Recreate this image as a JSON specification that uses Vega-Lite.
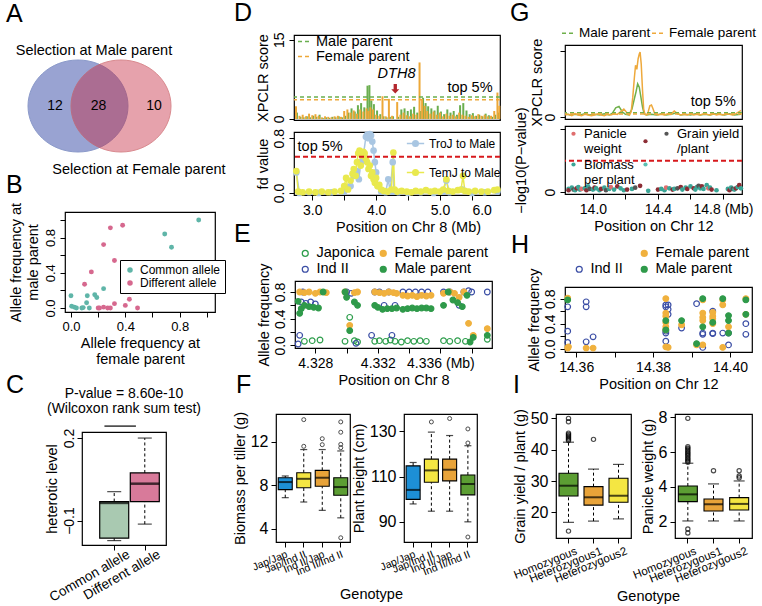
{
"$schema": "https://vega.github.io/schema/vega-lite/v6.json",
"background": "white",
"padding": 0,
"bounds": "flush",
"spacing": 0,
"resolve": {"scale": {"color": "independent", "fill": "independent", "stroke": "independent"}},
"config": {
  "font": "Liberation Sans",
  "view": {"stroke": "black", "strokeWidth": 1.2},
  "concat": {"spacing": 0},
  "axis": {"domain": false, "grid": false, "ticks": true, "tickColor": "black", "tickSize": 5, "tickWidth": 1, "labelColor": "black", "labelFont": "Liberation Sans", "labelFontSize": 14, "labelPadding": 3, "labelFlush": false, "labelOverlap": false, "titleColor": "black", "titleFont": "Liberation Sans", "titleFontSize": 14.5, "titleFontWeight": "normal", "titlePadding": 3},
  "axisY": {"labelAngle": -90, "labelAlign": "center", "labelBaseline": "bottom"},
  "legend": {"labelFont": "Liberation Sans", "labelColor": "black", "labelFontSize": 14.5, "padding": 0},
  "title": {"font": "Liberation Sans", "fontSize": 25, "fontWeight": "normal", "anchor": "start", "frame": "group", "baseline": "alphabetic", "color": "black"},
  "text": {"font": "Liberation Sans", "color": "black"}
},
"datasets": {
  "venn": [
    {"k": "set", "n": "Male", "x": 7.5, "y": 7.4},
    {"k": "set", "n": "Female", "x": 11.8, "y": 7.4},
    {"k": "num", "t": "12", "x": 5.2, "y": 7.4},
    {"k": "num", "t": "28", "x": 9.55, "y": 7.4},
    {"k": "num", "t": "10", "x": 15.1, "y": 7.4},
    {"k": "lab", "t": "Selection at Male parent", "x": 9.1, "y": 1.9},
    {"k": "lab", "t": "Selection at Female parent", "x": 13.6, "y": 13.8}
  ],
  "b": [
    {"g": "Common allele", "x": 0.94, "y": 1.0}, {"g": "Common allele", "x": 0.69, "y": 0.84}, {"g": "Common allele", "x": 0.74, "y": 0.69},
    {"g": "Common allele", "x": 0.0, "y": 0.14}, {"g": "Common allele", "x": 0.005, "y": 0.02}, {"g": "Common allele", "x": 0.025, "y": 0.01},
    {"g": "Common allele", "x": 0.04, "y": 0.0}, {"g": "Common allele", "x": 0.08, "y": 0.0}, {"g": "Common allele", "x": 0.09, "y": 0.005},
    {"g": "Common allele", "x": 0.12, "y": 0.14}, {"g": "Common allele", "x": 0.115, "y": 0.06}, {"g": "Common allele", "x": 0.135, "y": 0.0},
    {"g": "Common allele", "x": 0.175, "y": 0.15}, {"g": "Common allele", "x": 0.19, "y": 0.12}, {"g": "Common allele", "x": 0.24, "y": 0.22},
    {"g": "Different allele", "x": 0.29, "y": 0.91}, {"g": "Different allele", "x": 0.38, "y": 0.94}, {"g": "Different allele", "x": 0.24, "y": 0.72},
    {"g": "Different allele", "x": 0.32, "y": 0.54}, {"g": "Different allele", "x": 0.15, "y": 0.41}, {"g": "Different allele", "x": 0.10, "y": 0.27},
    {"g": "Different allele", "x": 0.20, "y": 0.0}, {"g": "Different allele", "x": 0.21, "y": 0.0}, {"g": "Different allele", "x": 0.24, "y": 0.01},
    {"g": "Different allele", "x": 0.27, "y": 0.0}, {"g": "Different allele", "x": 0.29, "y": 0.0}, {"g": "Different allele", "x": 0.32, "y": 0.05},
    {"g": "Different allele", "x": 0.40, "y": 0.03}, {"g": "Different allele", "x": 0.43, "y": 0.10}, {"g": "Different allele", "x": 0.49, "y": 0.0}
  ],
  "cbox": [
    {"g": "Common allele", "x": 1, "lo": -0.173, "q1": -0.164, "med": -0.036, "q3": -0.031, "hi": 0.005},
    {"g": "Different allele", "x": 2, "lo": -0.113, "q1": -0.031, "med": 0.034, "q3": 0.073, "hi": 0.2}
  ],
  "cline": [{"x1": 0.68, "x2": 1.71, "y": 0.2435}],
  "dtop": [
    {"p": 2.76, "s": "M", "v": 1.2}, {"p": 2.815, "s": "M", "v": 0.4}, {"p": 2.865, "s": "M", "v": 0.3}, {"p": 2.915, "s": "M", "v": 0.5},
    {"p": 2.965, "s": "M", "v": 0.3}, {"p": 3.015, "s": "M", "v": 0.6}, {"p": 3.065, "s": "M", "v": 0.4}, {"p": 3.115, "s": "M", "v": 0.8},
    {"p": 3.165, "s": "M", "v": 0.2}, {"p": 3.215, "s": "M", "v": 0.3}, {"p": 3.265, "s": "M", "v": 0.2}, {"p": 3.315, "s": "M", "v": 0.4},
    {"p": 3.365, "s": "M", "v": 0.3}, {"p": 3.415, "s": "M", "v": 0.5}, {"p": 3.465, "s": "M", "v": 0.3}, {"p": 3.515, "s": "M", "v": 0.6},
    {"p": 3.565, "s": "M", "v": 1.2}, {"p": 3.615, "s": "M", "v": 2.0}, {"p": 3.665, "s": "M", "v": 1.4}, {"p": 3.715, "s": "M", "v": 2.6},
    {"p": 3.765, "s": "M", "v": 3.0}, {"p": 3.815, "s": "M", "v": 2.2}, {"p": 3.865, "s": "M", "v": 6.3}, {"p": 3.895, "s": "M", "v": 6.4},
    {"p": 3.925, "s": "M", "v": 3.5}, {"p": 3.965, "s": "M", "v": 2.8}, {"p": 4.015, "s": "M", "v": 1.6}, {"p": 4.065, "s": "M", "v": 0.9},
    {"p": 4.115, "s": "M", "v": 0.5}, {"p": 4.165, "s": "M", "v": 0.3}, {"p": 4.215, "s": "M", "v": 0.4}, {"p": 4.265, "s": "M", "v": 0.5},
    {"p": 4.345, "s": "M", "v": 0.4}, {"p": 4.395, "s": "M", "v": 1.8}, {"p": 4.445, "s": "M", "v": 2.0}, {"p": 4.495, "s": "M", "v": 1.5},
    {"p": 4.545, "s": "M", "v": 1.8}, {"p": 4.595, "s": "M", "v": 2.3}, {"p": 4.645, "s": "M", "v": 1.2}, {"p": 4.695, "s": "M", "v": 1.5},
    {"p": 4.735, "s": "M", "v": 4.0}, {"p": 4.775, "s": "M", "v": 3.0}, {"p": 4.815, "s": "M", "v": 2.4}, {"p": 4.865, "s": "M", "v": 2.0},
    {"p": 4.915, "s": "M", "v": 1.6}, {"p": 4.965, "s": "M", "v": 2.5}, {"p": 5.015, "s": "M", "v": 1.4}, {"p": 5.065, "s": "M", "v": 0.9},
    {"p": 5.115, "s": "M", "v": 1.8}, {"p": 5.165, "s": "M", "v": 1.2}, {"p": 5.215, "s": "M", "v": 1.5}, {"p": 5.265, "s": "M", "v": 0.8},
    {"p": 5.315, "s": "M", "v": 2.6}, {"p": 5.365, "s": "M", "v": 3.0}, {"p": 5.415, "s": "M", "v": 1.6}, {"p": 5.465, "s": "M", "v": 0.9},
    {"p": 5.515, "s": "M", "v": 1.1}, {"p": 5.565, "s": "M", "v": 0.6}, {"p": 5.615, "s": "M", "v": 0.8}, {"p": 5.665, "s": "M", "v": 0.5},
    {"p": 5.715, "s": "M", "v": 1.0}, {"p": 5.765, "s": "M", "v": 0.7}, {"p": 5.815, "s": "M", "v": 0.4}, {"p": 5.865, "s": "M", "v": 0.8},
    {"p": 5.915, "s": "M", "v": 1.2},
    {"p": 2.745, "s": "F", "v": 2.4}, {"p": 2.80, "s": "F", "v": 0.6}, {"p": 2.85, "s": "F", "v": 0.8}, {"p": 2.90, "s": "F", "v": 0.5},
    {"p": 2.95, "s": "F", "v": 1.0}, {"p": 3.00, "s": "F", "v": 0.7}, {"p": 3.05, "s": "F", "v": 0.9}, {"p": 3.10, "s": "F", "v": 0.6},
    {"p": 3.15, "s": "F", "v": 0.3}, {"p": 3.20, "s": "F", "v": 0.5}, {"p": 3.25, "s": "F", "v": 0.4}, {"p": 3.30, "s": "F", "v": 0.3},
    {"p": 3.35, "s": "F", "v": 0.5}, {"p": 3.40, "s": "F", "v": 0.6}, {"p": 3.45, "s": "F", "v": 0.4}, {"p": 3.50, "s": "F", "v": 1.5},
    {"p": 3.55, "s": "F", "v": 1.8}, {"p": 3.60, "s": "F", "v": 1.2}, {"p": 3.65, "s": "F", "v": 1.6}, {"p": 3.70, "s": "F", "v": 1.0},
    {"p": 3.75, "s": "F", "v": 1.8}, {"p": 3.80, "s": "F", "v": 1.4}, {"p": 3.85, "s": "F", "v": 2.0}, {"p": 3.88, "s": "F", "v": 1.5},
    {"p": 3.91, "s": "F", "v": 2.2}, {"p": 3.95, "s": "F", "v": 1.8}, {"p": 4.00, "s": "F", "v": 0.8}, {"p": 4.05, "s": "F", "v": 0.6},
    {"p": 4.10, "s": "F", "v": 4.3}, {"p": 4.15, "s": "F", "v": 0.5}, {"p": 4.20, "s": "F", "v": 3.8}, {"p": 4.25, "s": "F", "v": 0.6},
    {"p": 4.33, "s": "F", "v": 3.2}, {"p": 4.38, "s": "F", "v": 0.8}, {"p": 4.43, "s": "F", "v": 1.2}, {"p": 4.48, "s": "F", "v": 0.7},
    {"p": 4.53, "s": "F", "v": 0.5}, {"p": 4.58, "s": "F", "v": 1.0}, {"p": 4.63, "s": "F", "v": 0.8}, {"p": 4.68, "s": "F", "v": 10.7},
    {"p": 4.72, "s": "F", "v": 3.8}, {"p": 4.76, "s": "F", "v": 2.5}, {"p": 4.80, "s": "F", "v": 1.5}, {"p": 4.85, "s": "F", "v": 1.0},
    {"p": 4.90, "s": "F", "v": 1.4}, {"p": 4.95, "s": "F", "v": 0.8}, {"p": 5.00, "s": "F", "v": 1.2}, {"p": 5.05, "s": "F", "v": 0.5},
    {"p": 5.10, "s": "F", "v": 1.0}, {"p": 5.15, "s": "F", "v": 0.6}, {"p": 5.20, "s": "F", "v": 0.8}, {"p": 5.25, "s": "F", "v": 0.5},
    {"p": 5.30, "s": "F", "v": 1.2}, {"p": 5.35, "s": "F", "v": 0.8}, {"p": 5.40, "s": "F", "v": 0.6}, {"p": 5.45, "s": "F", "v": 0.4},
    {"p": 5.50, "s": "F", "v": 0.7}, {"p": 5.55, "s": "F", "v": 0.5}, {"p": 5.60, "s": "F", "v": 0.9}, {"p": 5.65, "s": "F", "v": 0.6},
    {"p": 5.70, "s": "F", "v": 0.8}, {"p": 5.75, "s": "F", "v": 0.5}, {"p": 5.80, "s": "F", "v": 0.6}, {"p": 5.85, "s": "F", "v": 1.5},
    {"p": 5.90, "s": "F", "v": 5.0}, {"p": 5.93, "s": "F", "v": 2.5}
  ],
  "dthr": [{"s": "M", "v": 4.15}, {"s": "F", "v": 3.65}],
  "dbot": [
    {"p": 2.75, "s": "TroJ to Male", "v": 0.30}, {"p": 2.80, "s": "TroJ to Male", "v": 0.0}, {"p": 2.95, "s": "TroJ to Male", "v": 0.01},
    {"p": 3.10, "s": "TroJ to Male", "v": 0.0}, {"p": 3.30, "s": "TroJ to Male", "v": 0.01}, {"p": 3.50, "s": "TroJ to Male", "v": 0.02},
    {"p": 3.60, "s": "TroJ to Male", "v": 0.10}, {"p": 3.65, "s": "TroJ to Male", "v": 0.25}, {"p": 3.70, "s": "TroJ to Male", "v": 0.32},
    {"p": 3.73, "s": "TroJ to Male", "v": 0.20}, {"p": 3.76, "s": "TroJ to Male", "v": 0.45}, {"p": 3.80, "s": "TroJ to Male", "v": 0.55},
    {"p": 3.84, "s": "TroJ to Male", "v": 0.82}, {"p": 3.86, "s": "TroJ to Male", "v": 0.85}, {"p": 3.88, "s": "TroJ to Male", "v": 0.80},
    {"p": 3.90, "s": "TroJ to Male", "v": 0.86}, {"p": 3.92, "s": "TroJ to Male", "v": 0.84}, {"p": 3.94, "s": "TroJ to Male", "v": 0.75},
    {"p": 3.96, "s": "TroJ to Male", "v": 0.62}, {"p": 3.98, "s": "TroJ to Male", "v": 0.45}, {"p": 4.00, "s": "TroJ to Male", "v": 0.30},
    {"p": 4.03, "s": "TroJ to Male", "v": 0.10}, {"p": 4.08, "s": "TroJ to Male", "v": 0.02}, {"p": 4.15, "s": "TroJ to Male", "v": 0.01},
    {"p": 4.19, "s": "TroJ to Male", "v": 0.20}, {"p": 4.22, "s": "TroJ to Male", "v": 0.02}, {"p": 4.26, "s": "TroJ to Male", "v": 0.45},
    {"p": 4.28, "s": "TroJ to Male", "v": 0.02}, {"p": 4.35, "s": "TroJ to Male", "v": 0.01}, {"p": 4.50, "s": "TroJ to Male", "v": 0.0},
    {"p": 4.70, "s": "TroJ to Male", "v": 0.01}, {"p": 4.90, "s": "TroJ to Male", "v": 0.0}, {"p": 5.05, "s": "TroJ to Male", "v": 0.02},
    {"p": 5.10, "s": "TroJ to Male", "v": 0.18}, {"p": 5.15, "s": "TroJ to Male", "v": 0.01}, {"p": 5.35, "s": "TroJ to Male", "v": 0.05},
    {"p": 5.50, "s": "TroJ to Male", "v": 0.0}, {"p": 5.70, "s": "TroJ to Male", "v": 0.01}, {"p": 5.90, "s": "TroJ to Male", "v": 0.02},
    {"p": 2.75, "s": "TemJ to Male", "v": 0.32}, {"p": 2.78, "s": "TemJ to Male", "v": 0.02}, {"p": 2.85, "s": "TemJ to Male", "v": 0.01},
    {"p": 2.95, "s": "TemJ to Male", "v": 0.02}, {"p": 3.05, "s": "TemJ to Male", "v": 0.01}, {"p": 3.15, "s": "TemJ to Male", "v": 0.02},
    {"p": 3.25, "s": "TemJ to Male", "v": 0.01}, {"p": 3.35, "s": "TemJ to Male", "v": 0.02}, {"p": 3.45, "s": "TemJ to Male", "v": 0.03},
    {"p": 3.50, "s": "TemJ to Male", "v": 0.10}, {"p": 3.53, "s": "TemJ to Male", "v": 0.22}, {"p": 3.56, "s": "TemJ to Male", "v": 0.05},
    {"p": 3.60, "s": "TemJ to Male", "v": 0.18}, {"p": 3.63, "s": "TemJ to Male", "v": 0.28}, {"p": 3.65, "s": "TemJ to Male", "v": 0.35},
    {"p": 3.68, "s": "TemJ to Male", "v": 0.25}, {"p": 3.70, "s": "TemJ to Male", "v": 0.45}, {"p": 3.72, "s": "TemJ to Male", "v": 0.58},
    {"p": 3.74, "s": "TemJ to Male", "v": 0.62}, {"p": 3.76, "s": "TemJ to Male", "v": 0.40}, {"p": 3.78, "s": "TemJ to Male", "v": 0.55},
    {"p": 3.80, "s": "TemJ to Male", "v": 0.60}, {"p": 3.82, "s": "TemJ to Male", "v": 0.58}, {"p": 3.84, "s": "TemJ to Male", "v": 0.50},
    {"p": 3.86, "s": "TemJ to Male", "v": 0.45}, {"p": 3.88, "s": "TemJ to Male", "v": 0.35}, {"p": 3.90, "s": "TemJ to Male", "v": 0.40},
    {"p": 3.92, "s": "TemJ to Male", "v": 0.25}, {"p": 3.94, "s": "TemJ to Male", "v": 0.30}, {"p": 3.96, "s": "TemJ to Male", "v": 0.20},
    {"p": 3.98, "s": "TemJ to Male", "v": 0.15}, {"p": 4.00, "s": "TemJ to Male", "v": 0.22}, {"p": 4.02, "s": "TemJ to Male", "v": 0.10},
    {"p": 4.05, "s": "TemJ to Male", "v": 0.12}, {"p": 4.08, "s": "TemJ to Male", "v": 0.05}, {"p": 4.12, "s": "TemJ to Male", "v": 0.03},
    {"p": 4.18, "s": "TemJ to Male", "v": 0.02}, {"p": 4.24, "s": "TemJ to Male", "v": 0.05}, {"p": 4.27, "s": "TemJ to Male", "v": 0.59},
    {"p": 4.29, "s": "TemJ to Male", "v": 0.05}, {"p": 4.33, "s": "TemJ to Male", "v": 0.02}, {"p": 4.40, "s": "TemJ to Male", "v": 0.03},
    {"p": 4.48, "s": "TemJ to Male", "v": 0.02}, {"p": 4.55, "s": "TemJ to Male", "v": 0.01}, {"p": 4.62, "s": "TemJ to Male", "v": 0.03},
    {"p": 4.70, "s": "TemJ to Male", "v": 0.02}, {"p": 4.78, "s": "TemJ to Male", "v": 0.04}, {"p": 4.85, "s": "TemJ to Male", "v": 0.02},
    {"p": 4.92, "s": "TemJ to Male", "v": 0.03}, {"p": 5.00, "s": "TemJ to Male", "v": 0.02}, {"p": 5.05, "s": "TemJ to Male", "v": 0.05},
    {"p": 5.10, "s": "TemJ to Male", "v": 0.20}, {"p": 5.13, "s": "TemJ to Male", "v": 0.03}, {"p": 5.20, "s": "TemJ to Male", "v": 0.02},
    {"p": 5.28, "s": "TemJ to Male", "v": 0.04}, {"p": 5.33, "s": "TemJ to Male", "v": 0.05}, {"p": 5.36, "s": "TemJ to Male", "v": 0.25},
    {"p": 5.39, "s": "TemJ to Male", "v": 0.03}, {"p": 5.45, "s": "TemJ to Male", "v": 0.02}, {"p": 5.55, "s": "TemJ to Male", "v": 0.03},
    {"p": 5.65, "s": "TemJ to Male", "v": 0.02}, {"p": 5.75, "s": "TemJ to Male", "v": 0.02}, {"p": 5.85, "s": "TemJ to Male", "v": 0.04},
    {"p": 5.90, "s": "TemJ to Male", "v": 0.05}
  ],
  "e": [
    {"p": 4.3273, "g": "Japonica", "v": 0.06}, {"p": 4.3278, "g": "Japonica", "v": 0.07}, {"p": 4.3283, "g": "Japonica", "v": 0.08},
    {"p": 4.3299, "g": "Japonica", "v": 0.06}, {"p": 4.3302, "g": "Japonica", "v": 0.42}, {"p": 4.3305, "g": "Japonica", "v": 0.07},
    {"p": 4.3307, "g": "Japonica", "v": 0.05}, {"p": 4.3318, "g": "Japonica", "v": 0.06}, {"p": 4.3321, "g": "Japonica", "v": 0.07},
    {"p": 4.3325, "g": "Japonica", "v": 0.06}, {"p": 4.3328, "g": "Japonica", "v": 0.08}, {"p": 4.3331, "g": "Japonica", "v": 0.06},
    {"p": 4.3335, "g": "Japonica", "v": 0.05}, {"p": 4.3339, "g": "Japonica", "v": 0.07}, {"p": 4.3343, "g": "Japonica", "v": 0.06},
    {"p": 4.3347, "g": "Japonica", "v": 0.07}, {"p": 4.3351, "g": "Japonica", "v": 0.06}, {"p": 4.3362, "g": "Japonica", "v": 0.07},
    {"p": 4.3366, "g": "Japonica", "v": 0.06}, {"p": 4.3371, "g": "Japonica", "v": 0.07}, {"p": 4.3376, "g": "Japonica", "v": 0.06},
    {"p": 4.3390, "g": "Japonica", "v": 0.09},
    {"p": 4.3269, "g": "Ind II", "v": 0.02}, {"p": 4.3270, "g": "Ind II", "v": 0.15}, {"p": 4.3271, "g": "Ind II", "v": 0.65},
    {"p": 4.3272, "g": "Ind II", "v": 0.80}, {"p": 4.3274, "g": "Ind II", "v": 0.63}, {"p": 4.3277, "g": "Ind II", "v": 0.65},
    {"p": 4.3280, "g": "Ind II", "v": 0.62}, {"p": 4.3300, "g": "Ind II", "v": 0.80}, {"p": 4.3303, "g": "Ind II", "v": 0.78},
    {"p": 4.3306, "g": "Ind II", "v": 0.03}, {"p": 4.3316, "g": "Ind II", "v": 0.15}, {"p": 4.3318, "g": "Ind II", "v": 0.80},
    {"p": 4.3321, "g": "Ind II", "v": 0.80}, {"p": 4.3324, "g": "Ind II", "v": 0.60}, {"p": 4.3327, "g": "Ind II", "v": 0.80},
    {"p": 4.3329, "g": "Ind II", "v": 0.15}, {"p": 4.3331, "g": "Ind II", "v": 0.60}, {"p": 4.3336, "g": "Ind II", "v": 0.80},
    {"p": 4.3340, "g": "Ind II", "v": 0.80}, {"p": 4.3344, "g": "Ind II", "v": 0.80}, {"p": 4.3348, "g": "Ind II", "v": 0.80},
    {"p": 4.3352, "g": "Ind II", "v": 0.80}, {"p": 4.3362, "g": "Ind II", "v": 0.80}, {"p": 4.3366, "g": "Ind II", "v": 0.80},
    {"p": 4.3372, "g": "Ind II", "v": 0.60}, {"p": 4.3375, "g": "Ind II", "v": 0.80}, {"p": 4.3378, "g": "Ind II", "v": 0.82},
    {"p": 4.3380, "g": "Ind II", "v": 0.80}, {"p": 4.3390, "g": "Ind II", "v": 0.80},
    {"p": 4.3270, "g": "Female parent", "v": 0.80}, {"p": 4.3273, "g": "Female parent", "v": 0.79}, {"p": 4.3276, "g": "Female parent", "v": 0.80},
    {"p": 4.3280, "g": "Female parent", "v": 0.78}, {"p": 4.3283, "g": "Female parent", "v": 0.80}, {"p": 4.3287, "g": "Female parent", "v": 0.79},
    {"p": 4.3299, "g": "Female parent", "v": 0.80}, {"p": 4.3302, "g": "Female parent", "v": 0.30}, {"p": 4.3305, "g": "Female parent", "v": 0.79},
    {"p": 4.3307, "g": "Female parent", "v": 0.80}, {"p": 4.3318, "g": "Female parent", "v": 0.80}, {"p": 4.3321, "g": "Female parent", "v": 0.79},
    {"p": 4.3324, "g": "Female parent", "v": 0.78}, {"p": 4.3327, "g": "Female parent", "v": 0.80}, {"p": 4.3330, "g": "Female parent", "v": 0.79},
    {"p": 4.3332, "g": "Female parent", "v": 0.78}, {"p": 4.3336, "g": "Female parent", "v": 0.75}, {"p": 4.3339, "g": "Female parent", "v": 0.74},
    {"p": 4.3342, "g": "Female parent", "v": 0.75}, {"p": 4.3345, "g": "Female parent", "v": 0.73}, {"p": 4.3348, "g": "Female parent", "v": 0.75},
    {"p": 4.3351, "g": "Female parent", "v": 0.74}, {"p": 4.3354, "g": "Female parent", "v": 0.75}, {"p": 4.3362, "g": "Female parent", "v": 0.78},
    {"p": 4.3366, "g": "Female parent", "v": 0.80}, {"p": 4.3369, "g": "Female parent", "v": 0.78}, {"p": 4.3372, "g": "Female parent", "v": 0.72},
    {"p": 4.3375, "g": "Female parent", "v": 0.80}, {"p": 4.3378, "g": "Female parent", "v": 0.33}, {"p": 4.3381, "g": "Female parent", "v": 0.15},
    {"p": 4.3390, "g": "Female parent", "v": 0.25},
    {"p": 4.3269, "g": "Male parent", "v": 0.66}, {"p": 4.3270, "g": "Male parent", "v": 0.48}, {"p": 4.3271, "g": "Male parent", "v": 0.55},
    {"p": 4.3273, "g": "Male parent", "v": 0.60}, {"p": 4.3276, "g": "Male parent", "v": 0.58}, {"p": 4.3279, "g": "Male parent", "v": 0.57},
    {"p": 4.3282, "g": "Male parent", "v": 0.56}, {"p": 4.3285, "g": "Male parent", "v": 0.80}, {"p": 4.3299, "g": "Male parent", "v": 0.80},
    {"p": 4.3300, "g": "Male parent", "v": 0.72}, {"p": 4.3302, "g": "Male parent", "v": 0.22}, {"p": 4.3305, "g": "Male parent", "v": 0.65},
    {"p": 4.3307, "g": "Male parent", "v": 0.60}, {"p": 4.3318, "g": "Male parent", "v": 0.60}, {"p": 4.3320, "g": "Male parent", "v": 0.57},
    {"p": 4.3323, "g": "Male parent", "v": 0.54}, {"p": 4.3326, "g": "Male parent", "v": 0.55}, {"p": 4.3329, "g": "Male parent", "v": 0.55},
    {"p": 4.3332, "g": "Male parent", "v": 0.56}, {"p": 4.3336, "g": "Male parent", "v": 0.54}, {"p": 4.3339, "g": "Male parent", "v": 0.55},
    {"p": 4.3342, "g": "Male parent", "v": 0.56}, {"p": 4.3345, "g": "Male parent", "v": 0.55}, {"p": 4.3348, "g": "Male parent", "v": 0.56},
    {"p": 4.3351, "g": "Male parent", "v": 0.56}, {"p": 4.3354, "g": "Male parent", "v": 0.55}, {"p": 4.3362, "g": "Male parent", "v": 0.60},
    {"p": 4.3365, "g": "Male parent", "v": 0.80}, {"p": 4.3368, "g": "Male parent", "v": 0.68}, {"p": 4.3371, "g": "Male parent", "v": 0.64},
    {"p": 4.3374, "g": "Male parent", "v": 0.58}, {"p": 4.3377, "g": "Male parent", "v": 0.75}, {"p": 4.3379, "g": "Male parent", "v": 0.05},
    {"p": 4.3381, "g": "Male parent", "v": 0.12}, {"p": 4.3390, "g": "Male parent", "v": 0.15}
  ],
  "fl_box": [
    {"g": "Jap/Jap", "lo": 6.86, "q1": 7.6, "med": 8.3, "q3": 8.7, "hi": 8.86},
    {"g": "Jap/Ind II", "lo": 6.46, "q1": 7.78, "med": 8.6, "q3": 9.16, "hi": 11.3},
    {"g": "Ind II/Jap", "lo": 5.69, "q1": 7.91, "med": 8.7, "q3": 9.38, "hi": 11.3},
    {"g": "Ind II/Ind II", "lo": 5.0, "q1": 7.08, "med": 7.84, "q3": 8.7, "hi": 11.17}
  ],
  "fl_out": [
    {"g": "Jap/Ind II", "v": 14.06}, {"g": "Jap/Ind II", "v": 11.6}, {"g": "Ind II/Jap", "v": 12.3}, {"g": "Ind II/Jap", "v": 11.75},
    {"g": "Ind II/Ind II", "v": 13.85}, {"g": "Ind II/Ind II", "v": 12.9}, {"g": "Ind II/Ind II", "v": 11.78}, {"g": "Ind II/Ind II", "v": 11.47},
    {"g": "Ind II/Ind II", "v": 3.16}
  ],
  "fr_box": [
    {"g": "Jap/Jap", "lo": 97.9, "q1": 99.9, "med": 104.1, "q3": 114.7, "hi": 116.2},
    {"g": "Jap/Ind II", "lo": 94.7, "q1": 107.5, "med": 112.7, "q3": 117.7, "hi": 129.6},
    {"g": "Ind II/Jap", "lo": 94.7, "q1": 108.1, "med": 113.0, "q3": 117.7, "hi": 128.1},
    {"g": "Ind II/Ind II", "lo": 90.0, "q1": 101.9, "med": 106.7, "q3": 110.7, "hi": 123.6}
  ],
  "fr_out": [
    {"g": "Jap/Ind II", "v": 134.1}, {"g": "Ind II/Jap", "v": 135.6}, {"g": "Ind II/Ind II", "v": 131.0},
    {"g": "Ind II/Ind II", "v": 124.8}, {"g": "Ind II/Ind II", "v": 83.3}
  ],
  "il_box": [
    {"g": "Homozygous", "lo": 16.8, "q1": 25.2, "med": 28.5, "q3": 32.5, "hi": 42.4},
    {"g": "Heterozygous1", "lo": 17.2, "q1": 22.3, "med": 24.8, "q3": 28.2, "hi": 33.8},
    {"g": "Heterozygous2", "lo": 17.9, "q1": 23.2, "med": 25.3, "q3": 30.9, "hi": 35.3}
  ],
  "il_out": [
    {"g": "Homozygous", "v": 50.0}, {"g": "Homozygous", "v": 48.9}, {"g": "Homozygous", "v": 45.3}, {"g": "Homozygous", "v": 44.9},
    {"g": "Homozygous", "v": 44.5}, {"g": "Homozygous", "v": 44.1}, {"g": "Homozygous", "v": 43.7}, {"g": "Homozygous", "v": 43.3},
    {"g": "Homozygous", "v": 42.9}, {"g": "Homozygous", "v": 14.0}, {"g": "Heterozygous1", "v": 43.3}
  ],
  "ir_box": [
    {"g": "Homozygous", "lo": 2.04, "q1": 3.15, "med": 3.57, "q3": 4.05, "hi": 5.36},
    {"g": "Heterozygous1", "lo": 2.04, "q1": 2.61, "med": 3.0, "q3": 3.3, "hi": 4.17},
    {"g": "Heterozygous2", "lo": 2.04, "q1": 2.67, "med": 3.02, "q3": 3.38, "hi": 4.34}
  ],
  "ir_out": [
    {"g": "Homozygous", "v": 7.94}, {"g": "Homozygous", "v": 6.31}, {"g": "Homozygous", "v": 6.22}, {"g": "Homozygous", "v": 6.13},
    {"g": "Homozygous", "v": 6.04}, {"g": "Homozygous", "v": 5.95}, {"g": "Homozygous", "v": 5.86}, {"g": "Homozygous", "v": 5.77},
    {"g": "Homozygous", "v": 5.68}, {"g": "Homozygous", "v": 5.59}, {"g": "Homozygous", "v": 5.5}, {"g": "Homozygous", "v": 5.42},
    {"g": "Homozygous", "v": 1.58}, {"g": "Homozygous", "v": 1.35}, {"g": "Heterozygous1", "v": 4.93},
    {"g": "Heterozygous2", "v": 4.93}, {"g": "Heterozygous2", "v": 4.62}, {"g": "Heterozygous2", "v": 4.52}
  ],
  "gtop": [
    {"p": 13.83, "s": "M", "v": 5}, {"p": 13.86, "s": "M", "v": 3}, {"p": 13.89, "s": "M", "v": 4}, {"p": 13.92, "s": "M", "v": 3},
    {"p": 13.95, "s": "M", "v": 5}, {"p": 13.98, "s": "M", "v": 3}, {"p": 14.01, "s": "M", "v": 4}, {"p": 14.04, "s": "M", "v": 3},
    {"p": 14.07, "s": "M", "v": 5}, {"p": 14.10, "s": "M", "v": 3}, {"p": 14.12, "s": "M", "v": 6}, {"p": 14.14, "s": "M", "v": 14},
    {"p": 14.16, "s": "M", "v": 16}, {"p": 14.18, "s": "M", "v": 8}, {"p": 14.20, "s": "M", "v": 4}, {"p": 14.22, "s": "M", "v": 3},
    {"p": 14.24, "s": "M", "v": 12}, {"p": 14.255, "s": "M", "v": 28}, {"p": 14.265, "s": "M", "v": 38}, {"p": 14.275, "s": "M", "v": 50},
    {"p": 14.285, "s": "M", "v": 45}, {"p": 14.295, "s": "M", "v": 30}, {"p": 14.305, "s": "M", "v": 15}, {"p": 14.315, "s": "M", "v": 5},
    {"p": 14.33, "s": "M", "v": 3}, {"p": 14.36, "s": "M", "v": 4}, {"p": 14.39, "s": "M", "v": 3}, {"p": 14.42, "s": "M", "v": 5},
    {"p": 14.45, "s": "M", "v": 3}, {"p": 14.48, "s": "M", "v": 4}, {"p": 14.51, "s": "M", "v": 6}, {"p": 14.54, "s": "M", "v": 3},
    {"p": 14.57, "s": "M", "v": 4}, {"p": 14.60, "s": "M", "v": 3}, {"p": 14.63, "s": "M", "v": 5}, {"p": 14.66, "s": "M", "v": 3},
    {"p": 14.69, "s": "M", "v": 4}, {"p": 14.72, "s": "M", "v": 3}, {"p": 14.75, "s": "M", "v": 5}, {"p": 14.78, "s": "M", "v": 4},
    {"p": 14.81, "s": "M", "v": 3}, {"p": 14.84, "s": "M", "v": 5}, {"p": 14.87, "s": "M", "v": 3}, {"p": 14.91, "s": "M", "v": 4},
    {"p": 13.83, "s": "F", "v": 3}, {"p": 13.85, "s": "F", "v": 4}, {"p": 13.87, "s": "F", "v": 2}, {"p": 13.89, "s": "F", "v": 5},
    {"p": 13.91, "s": "F", "v": 3}, {"p": 13.93, "s": "F", "v": 2}, {"p": 13.95, "s": "F", "v": 4}, {"p": 13.97, "s": "F", "v": 3},
    {"p": 13.99, "s": "F", "v": 2}, {"p": 14.01, "s": "F", "v": 3}, {"p": 14.03, "s": "F", "v": 5}, {"p": 14.05, "s": "F", "v": 3},
    {"p": 14.07, "s": "F", "v": 2}, {"p": 14.09, "s": "F", "v": 4}, {"p": 14.11, "s": "F", "v": 3}, {"p": 14.13, "s": "F", "v": 5},
    {"p": 14.15, "s": "F", "v": 4}, {"p": 14.17, "s": "F", "v": 8}, {"p": 14.19, "s": "F", "v": 12}, {"p": 14.21, "s": "F", "v": 6},
    {"p": 14.225, "s": "F", "v": 3}, {"p": 14.235, "s": "F", "v": 8}, {"p": 14.245, "s": "F", "v": 30}, {"p": 14.255, "s": "F", "v": 60},
    {"p": 14.262, "s": "F", "v": 78}, {"p": 14.27, "s": "F", "v": 72}, {"p": 14.278, "s": "F", "v": 88}, {"p": 14.285, "s": "F", "v": 95},
    {"p": 14.29, "s": "F", "v": 98}, {"p": 14.297, "s": "F", "v": 80}, {"p": 14.305, "s": "F", "v": 40}, {"p": 14.312, "s": "F", "v": 12},
    {"p": 14.32, "s": "F", "v": 4}, {"p": 14.33, "s": "F", "v": 3}, {"p": 14.34, "s": "F", "v": 8}, {"p": 14.35, "s": "F", "v": 17},
    {"p": 14.36, "s": "F", "v": 18}, {"p": 14.37, "s": "F", "v": 12}, {"p": 14.38, "s": "F", "v": 5}, {"p": 14.40, "s": "F", "v": 3},
    {"p": 14.42, "s": "F", "v": 4}, {"p": 14.44, "s": "F", "v": 3}, {"p": 14.46, "s": "F", "v": 5}, {"p": 14.48, "s": "F", "v": 4},
    {"p": 14.50, "s": "F", "v": 9}, {"p": 14.52, "s": "F", "v": 5}, {"p": 14.54, "s": "F", "v": 3}, {"p": 14.56, "s": "F", "v": 4},
    {"p": 14.58, "s": "F", "v": 3}, {"p": 14.60, "s": "F", "v": 5}, {"p": 14.62, "s": "F", "v": 3}, {"p": 14.64, "s": "F", "v": 4},
    {"p": 14.66, "s": "F", "v": 3}, {"p": 14.68, "s": "F", "v": 5}, {"p": 14.70, "s": "F", "v": 4}, {"p": 14.72, "s": "F", "v": 3},
    {"p": 14.74, "s": "F", "v": 5}, {"p": 14.76, "s": "F", "v": 3}, {"p": 14.78, "s": "F", "v": 4}, {"p": 14.80, "s": "F", "v": 3},
    {"p": 14.82, "s": "F", "v": 5}, {"p": 14.84, "s": "F", "v": 4}, {"p": 14.86, "s": "F", "v": 3}, {"p": 14.88, "s": "F", "v": 5},
    {"p": 14.90, "s": "F", "v": 8}, {"p": 14.91, "s": "F", "v": 10}
  ],
  "gthr": [{"s": "M", "v": 6.5}, {"s": "F", "v": 4.5}],
  "gbot": [
    {"p": 13.85, "g": "B", "v": 0.5}, {"p": 13.85, "g": "a", "v": 0.3}, {"p": 13.87, "g": "B", "v": 0.7}, {"p": 13.88, "g": "G", "v": 0.4},
    {"p": 13.89, "g": "B", "v": 0.3}, {"p": 13.90, "g": "a", "v": 0.6}, {"p": 13.91, "g": "B", "v": 0.8}, {"p": 13.92, "g": "B", "v": 0.4},
    {"p": 13.93, "g": "P", "v": 0.5}, {"p": 13.95, "g": "B", "v": 0.6}, {"p": 13.96, "g": "a", "v": 0.3}, {"p": 13.97, "g": "B", "v": 0.9},
    {"p": 13.98, "g": "G", "v": 0.5}, {"p": 14.00, "g": "B", "v": 0.4}, {"p": 14.01, "g": "a", "v": 0.7}, {"p": 14.02, "g": "B", "v": 0.6},
    {"p": 14.04, "g": "B", "v": 0.3}, {"p": 14.05, "g": "a", "v": 0.5}, {"p": 14.07, "g": "B", "v": 0.7}, {"p": 14.08, "g": "G", "v": 0.3},
    {"p": 14.10, "g": "B", "v": 0.5}, {"p": 14.11, "g": "P", "v": 0.8}, {"p": 14.13, "g": "B", "v": 0.4}, {"p": 14.15, "g": "a", "v": 0.9},
    {"p": 14.17, "g": "B", "v": 0.6}, {"p": 14.19, "g": "B", "v": 0.3}, {"p": 14.21, "g": "a", "v": 0.4}, {"p": 14.24, "g": "B", "v": 0.5},
    {"p": 14.26, "g": "G", "v": 0.7}, {"p": 14.29, "g": "a", "v": 1.0}, {"p": 14.34, "g": "B", "v": 0.2}, {"p": 14.40, "g": "a", "v": 0.4},
    {"p": 14.42, "g": "B", "v": 0.5}, {"p": 14.44, "g": "B", "v": 0.3}, {"p": 14.45, "g": "P", "v": 0.7}, {"p": 14.47, "g": "B", "v": 0.6},
    {"p": 14.49, "g": "a", "v": 0.4}, {"p": 14.50, "g": "B", "v": 0.5}, {"p": 14.52, "g": "G", "v": 0.6}, {"p": 14.54, "g": "a", "v": 0.8},
    {"p": 14.55, "g": "B", "v": 0.4}, {"p": 14.57, "g": "B", "v": 0.7}, {"p": 14.58, "g": "a", "v": 0.5}, {"p": 14.60, "g": "B", "v": 0.9},
    {"p": 14.62, "g": "a", "v": 0.6}, {"p": 14.63, "g": "B", "v": 0.4}, {"p": 14.64, "g": "B", "v": 0.8}, {"p": 14.65, "g": "G", "v": 1.0},
    {"p": 14.66, "g": "B", "v": 0.6}, {"p": 14.67, "g": "a", "v": 0.9}, {"p": 14.68, "g": "B", "v": 0.5}, {"p": 14.70, "g": "B", "v": 1.1},
    {"p": 14.71, "g": "P", "v": 0.6}, {"p": 14.72, "g": "B", "v": 0.7}, {"p": 14.73, "g": "a", "v": 0.4}, {"p": 14.76, "g": "B", "v": 0.3},
    {"p": 14.83, "g": "B", "v": 0.5}, {"p": 14.84, "g": "a", "v": 0.3}, {"p": 14.85, "g": "B", "v": 0.7}, {"p": 14.86, "g": "G", "v": 0.5},
    {"p": 14.87, "g": "B", "v": 0.4}, {"p": 14.88, "g": "a", "v": 0.6}, {"p": 14.89, "g": "B", "v": 0.8}, {"p": 14.90, "g": "a", "v": 1.1},
    {"p": 14.91, "g": "B", "v": 0.6}
  ],
  "h": [
    {"p": 14.3578, "g": "Ind II", "v": 0.67}, {"p": 14.3578, "g": "Ind II", "v": 0.28}, {"p": 14.3578, "g": "Ind II", "v": 0.10},
    {"p": 14.3626, "g": "Ind II", "v": 0.75}, {"p": 14.3626, "g": "Ind II", "v": 0.67}, {"p": 14.3626, "g": "Ind II", "v": 0.11},
    {"p": 14.3644, "g": "Ind II", "v": 0.19}, {"p": 14.3833, "g": "Ind II", "v": 0.67}, {"p": 14.3833, "g": "Ind II", "v": 0.70},
    {"p": 14.3833, "g": "Ind II", "v": 0.28}, {"p": 14.3833, "g": "Ind II", "v": 0.25}, {"p": 14.3833, "g": "Ind II", "v": 0.12},
    {"p": 14.3839, "g": "Ind II", "v": 0.70}, {"p": 14.3839, "g": "Ind II", "v": 0.63}, {"p": 14.3839, "g": "Ind II", "v": 0.55},
    {"p": 14.3874, "g": "Ind II", "v": 0.33}, {"p": 14.3913, "g": "Ind II", "v": 0.72}, {"p": 14.3929, "g": "Ind II", "v": 0.25},
    {"p": 14.3929, "g": "Ind II", "v": 0.23}, {"p": 14.3929, "g": "Ind II", "v": 0.02}, {"p": 14.3955, "g": "Ind II", "v": 0.60},
    {"p": 14.3955, "g": "Ind II", "v": 0.25}, {"p": 14.3955, "g": "Ind II", "v": 0.24}, {"p": 14.3981, "g": "Ind II", "v": 0.25},
    {"p": 14.3996, "g": "Ind II", "v": 0.25}, {"p": 14.3996, "g": "Ind II", "v": 0.06}, {"p": 14.4041, "g": "Ind II", "v": 0.40},
    {"p": 14.4041, "g": "Ind II", "v": 0.23},
    {"p": 14.3578, "g": "Female parent", "v": 0.81}, {"p": 14.3578, "g": "Female parent", "v": 0.01}, {"p": 14.3580, "g": "Female parent", "v": 0.03},
    {"p": 14.3626, "g": "Female parent", "v": 0.01}, {"p": 14.3644, "g": "Female parent", "v": 0.01}, {"p": 14.3833, "g": "Female parent", "v": 0.80},
    {"p": 14.3833, "g": "Female parent", "v": 0.57}, {"p": 14.3833, "g": "Female parent", "v": 0.52}, {"p": 14.3833, "g": "Female parent", "v": 0.42},
    {"p": 14.3833, "g": "Female parent", "v": 0.35}, {"p": 14.3833, "g": "Female parent", "v": 0.30}, {"p": 14.3833, "g": "Female parent", "v": 0.03},
    {"p": 14.3839, "g": "Female parent", "v": 0.02}, {"p": 14.3874, "g": "Female parent", "v": 0.38}, {"p": 14.3913, "g": "Female parent", "v": 0.06},
    {"p": 14.3929, "g": "Female parent", "v": 0.78}, {"p": 14.3929, "g": "Female parent", "v": 0.57}, {"p": 14.3929, "g": "Female parent", "v": 0.50},
    {"p": 14.3929, "g": "Female parent", "v": 0.45}, {"p": 14.3929, "g": "Female parent", "v": 0.06}, {"p": 14.3955, "g": "Female parent", "v": 0.58},
    {"p": 14.3955, "g": "Female parent", "v": 0.52}, {"p": 14.3955, "g": "Female parent", "v": 0.48}, {"p": 14.3955, "g": "Female parent", "v": 0.40},
    {"p": 14.3981, "g": "Female parent", "v": 0.78}, {"p": 14.3981, "g": "Female parent", "v": 0.70}, {"p": 14.3981, "g": "Female parent", "v": 0.02},
    {"p": 14.3996, "g": "Female parent", "v": 0.35}, {"p": 14.4041, "g": "Female parent", "v": 0.80}, {"p": 14.4041, "g": "Female parent", "v": 0.55},
    {"p": 14.3578, "g": "Male parent", "v": 0.78}, {"p": 14.3833, "g": "Male parent", "v": 0.45}, {"p": 14.3833, "g": "Male parent", "v": 0.30},
    {"p": 14.3874, "g": "Male parent", "v": 0.45}, {"p": 14.3913, "g": "Male parent", "v": 0.08}, {"p": 14.3929, "g": "Male parent", "v": 0.80},
    {"p": 14.3929, "g": "Male parent", "v": 0.35}, {"p": 14.3955, "g": "Male parent", "v": 0.42}, {"p": 14.3981, "g": "Male parent", "v": 0.80},
    {"p": 14.3996, "g": "Male parent", "v": 0.53}, {"p": 14.3996, "g": "Male parent", "v": 0.45}, {"p": 14.3996, "g": "Male parent", "v": 0.25},
    {"p": 14.4041, "g": "Male parent", "v": 0.78}, {"p": 14.4041, "g": "Male parent", "v": 0.55}
  ]
},
"vconcat": [
  {"width": 762, "height": 30, "view": {"stroke": null}, "data": {"values": [{}]}, "mark": {"type": "point", "opacity": 0}},
  {"bounds": "flush", "spacing": 0, "resolve": {"scale": {"color": "independent", "fill": "independent", "stroke": "independent"}}, "hconcat": [
    {"width": 240, "height": 150, "view": {"stroke": null}, "title": {"text": "A", "dx": 3, "offset": 5},
     "data": {"name": "venn"},
     "encoding": {
       "x": {"field": "x", "type": "quantitative", "scale": {"domain": [0, 24], "nice": false, "zero": false}, "axis": null},
       "y": {"field": "y", "type": "quantitative", "scale": {"domain": [0, 15], "nice": false, "zero": false, "reverse": true}, "axis": null}
     },
     "layer": [
       {"transform": [{"filter": "datum.k == 'set'"}],
        "mark": {"type": "point", "shape": "M -1 0 A 1 0.92 0 1 0 1 0 A 1 0.92 0 1 0 -1 0 Z", "size": 10000, "filled": true, "strokeWidth": 1},
        "encoding": {
          "fill": {"field": "n", "type": "nominal", "scale": {"domain": ["Male", "Female"], "range": ["#4a5cb0", "#c5243c"]}, "legend": null},
          "fillOpacity": {"field": "n", "type": "nominal", "scale": {"domain": ["Male", "Female"], "range": [0.8, 0.6]}, "legend": null},
          "stroke": {"field": "n", "type": "nominal", "scale": {"domain": ["Male", "Female"], "range": ["#5a6fb3", "#c9585f"]}, "legend": null}
        }},
       {"transform": [{"filter": "datum.k == 'num'"}], "mark": {"type": "text", "fontSize": 14}, "encoding": {"text": {"field": "t"}}},
       {"transform": [{"filter": "datum.k == 'lab'"}], "mark": {"type": "text", "fontSize": 14.5}, "encoding": {"text": {"field": "t"}}}
     ]}
  ]},
  {"width": 1, "height": 3, "view": {"stroke": null}, "data": {"values": [{}]}, "mark": {"type": "point", "opacity": 0}},
  {"bounds": "flush", "spacing": 0, "resolve": {"scale": {"color": "independent", "fill": "independent", "stroke": "independent"}}, "hconcat": [
    {"width": 291, "height": 1, "view": {"stroke": null}, "data": {"values": [{}]}, "mark": {"type": "point", "opacity": 0}, "title": {"text": "D", "dx": 231, "offset": 7}},
    {"width": 206, "height": 85,
     "layer": [
       {"data": {"name": "dtop"}, "mark": {"type": "rule", "strokeWidth": 2},
        "encoding": {
          "x": {"field": "p", "type": "quantitative", "scale": {"domain": [2.714, 5.94], "nice": false, "zero": false}, "axis": null},
          "y": {"field": "v", "type": "quantitative", "scale": {"domain": [-0.2, 15.9], "nice": false, "zero": false}, "axis": {"values": [0, 5, 10, 15], "title": "XPCLR score", "titlePadding": 2}},
          "y2": {"datum": 0},
          "color": {"field": "s", "type": "nominal", "scale": {"domain": ["M", "F"], "range": ["#6aae4f", "#eda838"]},
                    "legend": {"orient": "none", "legendX": 3, "legendY": -1, "title": null, "labelExpr": "datum.label == 'M' ? 'Male parent' : 'Female parent'", "symbolType": "stroke", "symbolDash": [4, 3], "symbolStrokeWidth": 1.5, "symbolSize": 169, "labelFontSize": 14.5, "rowPadding": 0, "labelOffset": 4}}
        }},
       {"data": {"name": "dthr"}, "mark": {"type": "rule", "strokeDash": [4, 3], "strokeWidth": 1.5},
        "encoding": {"y": {"field": "v", "type": "quantitative"}, "color": {"field": "s", "type": "nominal"}}},
       {"data": {"values": [{"p": 4.32, "v": 8.5, "t": "DTH8"}]}, "mark": {"type": "text", "fontStyle": "italic", "fontSize": 14.5},
        "encoding": {"x": {"field": "p", "type": "quantitative"}, "y": {"field": "v", "type": "quantitative"}, "text": {"field": "t"}}},
       {"data": {"values": [{"p": 4.30, "v": 5.7}]}, "mark": {"type": "point", "shape": "M -0.35 -1 L 0.35 -1 L 0.35 0.1 L 0.85 0.1 L 0 1 L -0.85 0.1 L -0.35 0.1 Z", "size": 90, "filled": true, "color": "#b3262c", "opacity": 1},
        "encoding": {"x": {"field": "p", "type": "quantitative"}, "y": {"field": "v", "type": "quantitative"}}},
       {"data": {"values": [{"p": 5.47, "v": 5.85, "t": "top 5%"}]}, "mark": {"type": "text", "fontSize": 14.5},
        "encoding": {"x": {"field": "p", "type": "quantitative"}, "y": {"field": "v", "type": "quantitative"}, "text": {"field": "t"}}}
     ]}
  ]},
  {"width": 1, "height": 10, "view": {"stroke": null}, "data": {"values": [{}]}, "mark": {"type": "point", "opacity": 0}},
  {"bounds": "flush", "spacing": 0, "resolve": {"scale": {"color": "independent", "fill": "independent", "stroke": "independent"}}, "hconcat": [
    {"width": 562, "height": 1, "view": {"stroke": null}, "data": {"values": [{}]}, "mark": {"type": "point", "opacity": 0}, "title": {"text": "G", "dx": 507, "offset": 17}},
    {"width": 177, "height": 74,
     "layer": [
       {"data": {"name": "gtop"}, "mark": {"type": "line", "strokeWidth": 1.5},
        "encoding": {
          "x": {"field": "p", "type": "quantitative", "scale": {"domain": [13.828, 14.917], "nice": false, "zero": false}, "axis": null},
          "y": {"field": "v", "type": "quantitative", "scale": {"domain": [-3, 108.7], "nice": false, "zero": false}, "axis": {"values": [0, 20, 40, 60, 80, 100], "labelExpr": "datum.value == 0 ? '0' : datum.value == 40 ? '40' : datum.value == 80 ? '80' : ''", "title": "XPCLR score", "titleX": -28, "titleY": 37, "titleAlign": "center", "titleBaseline": "middle"}},
          "color": {"field": "s", "type": "nominal", "scale": {"domain": ["M", "F"], "range": ["#6fb04b", "#eea93c"]},
                    "legend": {"orient": "none", "legendX": -4, "legendY": -20, "direction": "horizontal", "title": null, "labelExpr": "datum.label == 'M' ? 'Male parent' : 'Female parent'", "symbolType": "stroke", "symbolDash": [4, 3], "symbolSize": 196, "symbolStrokeWidth": 1.5, "labelFontSize": 13.5, "columnPadding": -3, "labelOffset": 2}}
        }},
       {"data": {"name": "gthr"}, "mark": {"type": "rule", "strokeDash": [4, 3], "strokeWidth": 1.5},
        "encoding": {"y": {"field": "v", "type": "quantitative"}, "color": {"field": "s", "type": "nominal"}}},
       {"data": {"values": [{"p": 14.74, "v": 22.6, "t": "top 5%"}]}, "mark": {"type": "text", "fontSize": 14.5},
        "encoding": {"x": {"field": "p", "type": "quantitative"}, "y": {"field": "v", "type": "quantitative"}, "text": {"field": "t"}}}
     ]}
  ]},
  {"width": 1, "height": 81, "view": {"stroke": null}, "data": {"values": [{}]}, "mark": {"type": "point", "opacity": 0}},
  {"bounds": "flush", "spacing": 0, "resolve": {"scale": {"color": "independent", "fill": "independent", "stroke": "independent"}}, "hconcat": [
    {"width": 562, "height": 1, "view": {"stroke": null}, "data": {"values": [{}]}, "mark": {"type": "point", "opacity": 0}},
    {"width": 177, "height": 68,
     "layer": [
       {"data": {"name": "gbot"}, "mark": {"type": "point", "filled": true, "size": 22, "opacity": 1},
        "encoding": {
          "x": {"field": "p", "type": "quantitative", "scale": {"domain": [13.828, 14.917], "nice": false, "zero": false},
                "axis": {"values": [14.0, 14.2, 14.4, 14.6, 14.8], "labelExpr": "datum.value == 14 ? '14.0' : datum.value == 14.4 ? '14.4' : datum.value == 14.8 ? '\u00a0\u00a0\u00a0\u00a0\u00a0\u00a0\u00a0\u00a0\u00a014.8 (Mb)' : ''", "title": "Position on Chr 12"}},
          "y": {"field": "v", "type": "quantitative", "scale": {"domain": [-0.3, 10.5], "nice": false, "zero": false}, "axis": {"values": [0, 2, 4, 6, 8, 10], "labelExpr": "datum.value == 0 ? '0' : datum.value == 4 ? '4' : datum.value == 8 ? '8' : ''", "title": "\u2212log10(P\u2212value)", "titleX": -44, "titleY": 34, "titleAlign": "center", "titleBaseline": "middle"}},
          "color": {"field": "g", "type": "nominal", "scale": {"domain": ["P", "B", "a", "b", "G"], "range": ["#df6e6e", "#3aa596", "#8c2d35", "#5cc0b2", "#555555"]},
                    "legend": {"orient": "none", "legendX": 2, "legendY": 1, "columns": 3, "title": null, "labelExpr": "datum.label == 'P' ? ['Panicle', ' weight'] : datum.label == 'G' ? ['Grain yield', '/plant'] : datum.label == 'B' ? ['Biomass', 'per plant'] : ''", "labelFontSize": 13, "symbolSize": 18, "symbolType": "circle", "rowPadding": 2, "columnPadding": 4}}
        }},
       {"data": {"values": [{"v": 5}]}, "mark": {"type": "rule", "color": "#d7191c", "strokeDash": [5, 3], "strokeWidth": 2},
        "encoding": {"y": {"field": "v", "type": "quantitative"}}}
     ]}
  ]},
  {"width": 1, "height": 6, "view": {"stroke": null}, "data": {"values": [{}]}, "mark": {"type": "point", "opacity": 0}},
  {"bounds": "flush", "spacing": 0, "resolve": {"scale": {"color": "independent", "fill": "independent", "stroke": "independent"}}, "hconcat": [
    {"width": 291, "height": 1, "view": {"stroke": null}, "data": {"values": [{}]}, "mark": {"type": "point", "opacity": 0}},
    {"width": 206, "height": 63,
     "layer": [
       {"data": {"name": "dbot"}, "mark": {"type": "line", "strokeWidth": 1.5},
        "encoding": {
          "x": {"field": "p", "type": "quantitative", "scale": {"domain": [2.714, 5.94], "nice": false, "zero": false},
                "axis": {"values": [3, 3.5, 4, 4.5, 5, 5.5], "labelExpr": "datum.value == 5.5 ? '6.0' : datum.value == 3 ? '3.0' : datum.value == 4 ? '4.0' : datum.value == 5 ? '5.0' : ''",
                         "labelAlign": {"condition": {"test": "datum.value == 5.5", "value": "left"}, "value": "center"},
                         "title": "Position on Chr  8 (Mb)", "titleX": 114, "titleAlign": "center"}},
          "y": {"field": "v", "type": "quantitative", "scale": {"domain": [-0.03, 0.89], "nice": false, "zero": false},
                "axis": {"values": [0, 0.2, 0.4, 0.6, 0.8], "labelExpr": "datum.value == 0 ? '0.0' : datum.value == 0.4 ? '0.4' : datum.value == 0.8 ? '0.8' : ''", "title": "fd value", "titlePadding": 2}},
          "stroke": {"field": "s", "type": "nominal", "scale": {"domain": ["TroJ to Male", "TemJ to Male"], "range": ["#a9c6e2", "#e9e94e"]},
                     "legend": {"orient": "none", "legendX": 112, "legendY": 2, "title": null, "symbolType": "M -1 0 L 1 0 M 0.32 0 A 0.32 0.32 0 1 1 -0.32 0 A 0.32 0.32 0 1 1 0.32 0 Z", "symbolSize": 300, "symbolStrokeWidth": 1.5, "labelFontSize": 12, "rowPadding": 13}}
        }},
       {"data": {"name": "dbot"}, "mark": {"type": "point", "filled": true, "size": 22, "opacity": 1},
        "encoding": {
          "x": {"field": "p", "type": "quantitative"}, "y": {"field": "v", "type": "quantitative"},
          "fill": {"field": "s", "type": "nominal", "scale": {"domain": ["TroJ to Male", "TemJ to Male"], "range": ["#a9c6e2", "#e9e94e"]},
                   "legend": {"orient": "none", "legendX": 112, "legendY": 2, "title": null, "symbolType": "M -1 0 L 1 0 M 0.32 0 A 0.32 0.32 0 1 1 -0.32 0 A 0.32 0.32 0 1 1 0.32 0 Z", "symbolSize": 300, "symbolStrokeWidth": 1.5, "labelFontSize": 12, "rowPadding": 13}},
          "stroke": {"field": "s", "type": "nominal"}
        }},
       {"data": {"values": [{"v": 0.53}]}, "mark": {"type": "rule", "color": "#d7191c", "strokeDash": [5, 3], "strokeWidth": 2},
        "encoding": {"y": {"field": "v", "type": "quantitative"}}},
       {"data": {"values": [{"p": 2.77, "v": 0.67, "t": "top 5%"}]}, "mark": {"type": "text", "fontSize": 14.5, "align": "left"},
        "encoding": {"x": {"field": "p", "type": "quantitative"}, "y": {"field": "v", "type": "quantitative"}, "text": {"field": "t"}}}
     ]}
  ]},
  {"width": 1, "height": 80, "view": {"stroke": null}, "data": {"values": [{}]}, "mark": {"type": "point", "opacity": 0}},
  {"bounds": "flush", "spacing": 0, "resolve": {"scale": {"color": "independent", "fill": "independent", "stroke": "independent"}}, "hconcat": [
    {"width": 62, "height": 1, "view": {"stroke": null}, "data": {"values": [{}]}, "mark": {"type": "point", "opacity": 0}, "title": {"text": "B", "dx": 3, "offset": 12}},
    {"width": 150, "height": 100, "data": {"name": "b"},
     "mark": {"type": "point", "filled": true, "size": 24, "opacity": 1},
     "encoding": {
       "x": {"field": "x", "type": "quantitative", "scale": {"domain": [-0.044, 1.06], "nice": false, "zero": false},
             "axis": {"values": [0, 0.2, 0.4, 0.6, 0.8, 1], "labelExpr": "datum.value == 0 ? '0.0' : datum.value == 0.4 ? '0.4' : datum.value == 0.8 ? '0.8' : ''", "title": ["Allele frequency at", "female parent"], "labelFontSize": 13, "titlePadding": 3}},
       "y": {"field": "y", "type": "quantitative", "scale": {"domain": [-0.045, 1.09], "nice": false, "zero": false},
             "axis": {"values": [0, 0.2, 0.4, 0.6, 0.8, 1], "labelExpr": "datum.value == 0 ? '0.0' : datum.value == 0.4 ? '0.4' : datum.value == 0.8 ? '0.8' : ''", "title": ["Allele frequency at", "male parent"], "labelFontSize": 13, "titlePadding": 4}},
       "color": {"field": "g", "type": "nominal", "scale": {"domain": ["Common allele", "Different allele"], "range": ["#5fb5a8", "#d6688e"]},
                 "legend": {"orient": "none", "legendX": 55, "legendY": 48, "title": null, "strokeColor": "black", "fillColor": "white", "padding": 4, "labelFontSize": 12, "symbolSize": 30, "rowPadding": 1, "symbolType": "circle"}}
     }}
  ]},
  {"width": 1, "height": 69, "view": {"stroke": null}, "data": {"values": [{}]}, "mark": {"type": "point", "opacity": 0}},
  {"bounds": "flush", "spacing": 0, "resolve": {"scale": {"color": "independent", "fill": "independent", "stroke": "independent"}}, "hconcat": [
    {"width": 292, "height": 1, "view": {"stroke": null}, "data": {"values": [{}]}, "mark": {"type": "point", "opacity": 0}, "title": {"text": "E", "dx": 231, "offset": 32}},
    {"width": 197, "height": 67, "data": {"name": "e"},
     "mark": {"type": "point", "filled": true, "size": 32, "strokeWidth": 1.2, "opacity": 1},
     "encoding": {
       "x": {"field": "p", "type": "quantitative", "scale": {"domain": [4.3267, 4.3393], "nice": false, "zero": false},
             "axis": {"values": [4.328, 4.33, 4.332, 4.334, 4.336, 4.338], "labelExpr": "datum.value == 4.328 ? '4.328' : datum.value == 4.332 ? '4.332' : datum.value == 4.336 ? '\u00a0\u00a0\u00a0\u00a0\u00a0\u00a0\u00a0\u00a04.336 (Mb)' : ''", "title": "Position on Chr 8"}},
       "y": {"field": "v", "type": "quantitative", "scale": {"domain": [-0.04, 0.965], "nice": false, "zero": false},
             "axis": {"values": [0, 0.2, 0.4, 0.6, 0.8], "labelExpr": "datum.value == 0 ? '0.0' : datum.value == 0.4 ? '0.4' : datum.value == 0.8 ? '0.8' : ''", "title": "Allele frequency", "titlePadding": 2}},
       "fill": {"field": "g", "type": "nominal", "scale": {"domain": ["Japonica", "Ind II", "Female parent", "Male parent"], "range": ["rgba(255,255,255,0)", "rgba(255,255,255,0)", "#f0b13e", "#2f9a4a"]},
                "legend": {"orient": "none", "legendX": 3, "legendY": -35, "title": null, "columns": 2, "columnPadding": 1, "rowPadding": 1, "labelFontSize": 14.5, "symbolSize": 35, "symbolStrokeWidth": 1.3, "symbolType": "circle"}},
       "stroke": {"field": "g", "type": "nominal", "scale": {"domain": ["Japonica", "Ind II", "Female parent", "Male parent"], "range": ["#2e9e4c", "#3b4ea5", "#f0b13e", "#2f9a4a"]},
                  "legend": {"orient": "none", "legendX": 3, "legendY": -35, "title": null, "columns": 2, "columnPadding": 1, "rowPadding": 1, "labelFontSize": 14.5, "symbolSize": 35, "symbolStrokeWidth": 1.3, "symbolType": "circle"}}
     }}
  ]},
  {"width": 1, "height": 6, "view": {"stroke": null}, "data": {"values": [{}]}, "mark": {"type": "point", "opacity": 0}},
  {"bounds": "flush", "spacing": 0, "resolve": {"scale": {"color": "independent", "fill": "independent", "stroke": "independent"}}, "hconcat": [
    {"width": 562, "height": 1, "view": {"stroke": null}, "data": {"values": [{}]}, "mark": {"type": "point", "opacity": 0}, "title": {"text": "H", "dx": 508, "offset": 27}},
    {"width": 187, "height": 65, "data": {"name": "h"},
     "mark": {"type": "point", "filled": true, "size": 32, "strokeWidth": 1.2, "opacity": 1},
     "encoding": {
       "x": {"field": "p", "type": "quantitative", "scale": {"domain": [14.3571, 14.4057], "nice": false, "zero": false},
             "axis": {"values": [14.36, 14.37, 14.38, 14.39, 14.4], "labelExpr": "datum.value == 14.36 ? '14.36' : datum.value == 14.38 ? '14.38' : datum.value == 14.4 ? '14.40' : ''", "title": "Position on Chr 12"}},
       "y": {"field": "v", "type": "quantitative", "scale": {"domain": [-0.053, 0.987], "nice": false, "zero": false},
             "axis": {"values": [0, 0.2, 0.4, 0.6, 0.8], "labelExpr": "datum.value == 0 ? '0.0' : datum.value == 0.4 ? '0.4' : datum.value == 0.8 ? '0.8' : ''", "title": "Allele frequency", "titlePadding": 2}},
       "fill": {"field": "g", "type": "nominal", "scale": {"domain": [" ", "Ind II", "Female parent", "Male parent"], "range": ["rgba(255,255,255,0)", "rgba(255,255,255,0)", "#f0b13e", "#2f9a4a"]},
                "legend": {"orient": "none", "legendX": 7, "legendY": -41, "title": null, "columns": 2, "columnPadding": 14, "rowPadding": 1, "labelFontSize": 14.5, "symbolSize": 35, "symbolStrokeWidth": 1.3, "symbolType": "circle"}},
       "stroke": {"field": "g", "type": "nominal", "scale": {"domain": [" ", "Ind II", "Female parent", "Male parent"], "range": ["rgba(255,255,255,0)", "#3b4ea5", "#f0b13e", "#2f9a4a"]},
                  "legend": {"orient": "none", "legendX": 7, "legendY": -41, "title": null, "columns": 2, "columnPadding": 14, "rowPadding": 1, "labelFontSize": 14.5, "symbolSize": 35, "symbolStrokeWidth": 1.3, "symbolType": "circle"}}
     }}
  ]},
  {"width": 1, "height": 127, "view": {"stroke": null}, "data": {"values": [{}]}, "mark": {"type": "point", "opacity": 0}},
  {"bounds": "flush", "spacing": 0, "resolve": {"scale": {"color": "independent", "fill": "independent", "stroke": "independent"}}, "hconcat": [
    {"width": 273, "height": 1, "view": {"stroke": null}, "data": {"values": [{}]}, "mark": {"type": "point", "opacity": 0}, "title": {"text": "F", "dx": 233, "offset": 14}},
    {"width": 74, "height": 128,
     "encoding": {"x": {"field": "g", "type": "nominal", "sort": null, "scale": {"type": "band", "domain": ["Jap/Jap", "Jap/Ind II", "Ind II/Jap", "Ind II/Ind II"], "paddingInner": 0, "paddingOuter": 0},
                        "axis": {"title": "Genotype", "titleX": 95, "titleY": 56, "titleAlign": "center", "titleBaseline": "alphabetic", "labelAngle": -22, "labelAlign": "right", "labelBaseline": "top", "labelFontSize": 10.5, "labelPadding": 2}}},
     "layer": [
       {"data": {"name": "fl_box"}, "mark": {"type": "rule", "color": "black", "strokeDash": [3, 2.5]},
        "encoding": {"y": {"field": "lo", "type": "quantitative", "scale": {"domain": [2.77, 14.58], "nice": false, "zero": false},
                           "axis": {"values": [4, 6, 8, 10, 12, 14], "labelExpr": "datum.value == 4 ? '4' : datum.value == 8 ? '8' : datum.value == 12 ? '12' : ''", "labelAngle": 0, "labelAlign": "right", "labelBaseline": "middle", "labelFontSize": 16, "title": "Biomass per tiller (g)"}},
                     "y2": {"field": "q1"}}},
       {"data": {"name": "fl_box"}, "mark": {"type": "rule", "color": "black", "strokeDash": [3, 2.5]}, "encoding": {"y": {"field": "q3", "type": "quantitative"}, "y2": {"field": "hi"}}},
       {"data": {"name": "fl_box"}, "mark": {"type": "tick", "orient": "horizontal", "color": "black", "size": 7, "thickness": 1.2}, "encoding": {"y": {"field": "lo", "type": "quantitative"}}},
       {"data": {"name": "fl_box"}, "mark": {"type": "tick", "orient": "horizontal", "color": "black", "size": 7, "thickness": 1.2}, "encoding": {"y": {"field": "hi", "type": "quantitative"}}},
       {"data": {"name": "fl_box"}, "mark": {"type": "bar", "size": 14, "stroke": "black", "strokeWidth": 1.1},
        "encoding": {"y": {"field": "q1", "type": "quantitative"}, "y2": {"field": "q3"},
                     "fill": {"field": "g", "type": "nominal", "scale": {"domain": ["Jap/Jap", "Jap/Ind II", "Ind II/Jap", "Ind II/Ind II"], "range": ["#1d8fd6", "#f4e642", "#e8a339", "#5c9e33"]}, "legend": null}}},
       {"data": {"name": "fl_box"}, "mark": {"type": "tick", "orient": "horizontal", "color": "black", "size": 14, "thickness": 2}, "encoding": {"y": {"field": "med", "type": "quantitative"}}},
       {"data": {"name": "fl_out"}, "mark": {"type": "point", "shape": "circle", "size": 16, "color": "black", "filled": false, "strokeWidth": 1}, "encoding": {"y": {"field": "v", "type": "quantitative"}}}
     ]},
    {"width": 54, "height": 1, "view": {"stroke": null}, "data": {"values": [{}]}, "mark": {"type": "point", "opacity": 0}},
    {"width": 73, "height": 128,
     "encoding": {"x": {"field": "g", "type": "nominal", "sort": null, "scale": {"type": "band", "domain": ["Jap/Jap", "Jap/Ind II", "Ind II/Jap", "Ind II/Ind II"], "paddingInner": 0, "paddingOuter": 0},
                        "axis": {"title": null, "labelAngle": -22, "labelAlign": "right", "labelBaseline": "top", "labelFontSize": 10.5, "labelPadding": 2}}},
     "layer": [
       {"data": {"name": "fr_box"}, "mark": {"type": "rule", "color": "black", "strokeDash": [3, 2.5]},
        "encoding": {"y": {"field": "lo", "type": "quantitative", "scale": {"domain": [81.1, 137.6], "nice": false, "zero": false},
                           "axis": {"values": [90, 100, 110, 120, 130], "labelExpr": "datum.value == 90 ? '90' : datum.value == 110 ? '110' : datum.value == 130 ? '130' : ''", "labelAngle": 0, "labelAlign": "right", "labelBaseline": "middle", "labelFontSize": 16, "title": "Plant height (cm)"}},
                     "y2": {"field": "q1"}}},
       {"data": {"name": "fr_box"}, "mark": {"type": "rule", "color": "black", "strokeDash": [3, 2.5]}, "encoding": {"y": {"field": "q3", "type": "quantitative"}, "y2": {"field": "hi"}}},
       {"data": {"name": "fr_box"}, "mark": {"type": "tick", "orient": "horizontal", "color": "black", "size": 7, "thickness": 1.2}, "encoding": {"y": {"field": "lo", "type": "quantitative"}}},
       {"data": {"name": "fr_box"}, "mark": {"type": "tick", "orient": "horizontal", "color": "black", "size": 7, "thickness": 1.2}, "encoding": {"y": {"field": "hi", "type": "quantitative"}}},
       {"data": {"name": "fr_box"}, "mark": {"type": "bar", "size": 14, "stroke": "black", "strokeWidth": 1.1},
        "encoding": {"y": {"field": "q1", "type": "quantitative"}, "y2": {"field": "q3"},
                     "fill": {"field": "g", "type": "nominal", "scale": {"domain": ["Jap/Jap", "Jap/Ind II", "Ind II/Jap", "Ind II/Ind II"], "range": ["#1d8fd6", "#f4e642", "#e8a339", "#5c9e33"]}, "legend": null}}},
       {"data": {"name": "fr_box"}, "mark": {"type": "tick", "orient": "horizontal", "color": "black", "size": 14, "thickness": 2}, "encoding": {"y": {"field": "med", "type": "quantitative"}}},
       {"data": {"name": "fr_out"}, "mark": {"type": "point", "shape": "circle", "size": 16, "color": "black", "filled": false, "strokeWidth": 1}, "encoding": {"y": {"field": "v", "type": "quantitative"}}}
     ]},
    {"width": 79, "height": 1, "view": {"stroke": null}, "data": {"values": [{}]}, "mark": {"type": "point", "opacity": 0}, "title": {"text": "I", "dx": 36, "offset": 14}},
    {"width": 75, "height": 124,
     "encoding": {"x": {"field": "g", "type": "nominal", "sort": null, "scale": {"type": "band", "domain": ["Homozygous", "Heterozygous1", "Heterozygous2"], "paddingInner": 0, "paddingOuter": 0},
                        "axis": {"title": "Genotype", "titleX": 92, "titleY": 62, "titleAlign": "center", "titleBaseline": "alphabetic", "labelAngle": -22, "labelAlign": "right", "labelBaseline": "top", "labelFontSize": 11.5, "labelPadding": 2, "labelOffset": 6}}},
     "layer": [
       {"data": {"name": "il_box"}, "mark": {"type": "rule", "color": "black", "strokeDash": [3, 2.5]},
        "encoding": {"y": {"field": "lo", "type": "quantitative", "scale": {"domain": [11.8, 51.4], "nice": false, "zero": false},
                           "axis": {"values": [20, 30, 40, 50], "labelAngle": 0, "labelAlign": "right", "labelBaseline": "middle", "labelFontSize": 16, "title": "Grain yield / plant (g)"}},
                     "y2": {"field": "q1"}}},
       {"data": {"name": "il_box"}, "mark": {"type": "rule", "color": "black", "strokeDash": [3, 2.5]}, "encoding": {"y": {"field": "q3", "type": "quantitative"}, "y2": {"field": "hi"}}},
       {"data": {"name": "il_box"}, "mark": {"type": "tick", "orient": "horizontal", "color": "black", "size": 11, "thickness": 1.2}, "encoding": {"y": {"field": "lo", "type": "quantitative"}}},
       {"data": {"name": "il_box"}, "mark": {"type": "tick", "orient": "horizontal", "color": "black", "size": 11, "thickness": 1.2}, "encoding": {"y": {"field": "hi", "type": "quantitative"}}},
       {"data": {"name": "il_box"}, "mark": {"type": "bar", "size": 19, "stroke": "black", "strokeWidth": 1.1},
        "encoding": {"y": {"field": "q1", "type": "quantitative"}, "y2": {"field": "q3"},
                     "fill": {"field": "g", "type": "nominal", "scale": {"domain": ["Homozygous", "Heterozygous1", "Heterozygous2"], "range": ["#5c9e33", "#e8a339", "#f4e642"]}, "legend": null}}},
       {"data": {"name": "il_box"}, "mark": {"type": "tick", "orient": "horizontal", "color": "black", "size": 19, "thickness": 2}, "encoding": {"y": {"field": "med", "type": "quantitative"}}},
       {"data": {"name": "il_out"}, "mark": {"type": "point", "shape": "circle", "size": 18, "color": "black", "filled": false, "strokeWidth": 1.2}, "encoding": {"y": {"field": "v", "type": "quantitative"}}}
     ]},
    {"width": 44, "height": 1, "view": {"stroke": null}, "data": {"values": [{}]}, "mark": {"type": "point", "opacity": 0}},
    {"width": 77, "height": 124,
     "encoding": {"x": {"field": "g", "type": "nominal", "sort": null, "scale": {"type": "band", "domain": ["Homozygous", "Heterozygous1", "Heterozygous2"], "paddingInner": 0, "paddingOuter": 0},
                        "axis": {"title": null, "labelAngle": -22, "labelAlign": "right", "labelBaseline": "top", "labelFontSize": 11.5, "labelPadding": 2, "labelOffset": 6}}},
     "layer": [
       {"data": {"name": "ir_box"}, "mark": {"type": "rule", "color": "black", "strokeDash": [3, 2.5]},
        "encoding": {"y": {"field": "lo", "type": "quantitative", "scale": {"domain": [1.06, 8.19], "nice": false, "zero": false},
                           "axis": {"values": [2, 3, 4, 5, 6, 7, 8], "labelExpr": "datum.value == 2 ? '2' : datum.value == 4 ? '4' : datum.value == 6 ? '6' : datum.value == 8 ? '8' : ''", "labelAngle": 0, "labelAlign": "right", "labelBaseline": "middle", "labelFontSize": 16, "title": "Panicle weight (g)"}},
                     "y2": {"field": "q1"}}},
       {"data": {"name": "ir_box"}, "mark": {"type": "rule", "color": "black", "strokeDash": [3, 2.5]}, "encoding": {"y": {"field": "q3", "type": "quantitative"}, "y2": {"field": "hi"}}},
       {"data": {"name": "ir_box"}, "mark": {"type": "tick", "orient": "horizontal", "color": "black", "size": 11, "thickness": 1.2}, "encoding": {"y": {"field": "lo", "type": "quantitative"}}},
       {"data": {"name": "ir_box"}, "mark": {"type": "tick", "orient": "horizontal", "color": "black", "size": 11, "thickness": 1.2}, "encoding": {"y": {"field": "hi", "type": "quantitative"}}},
       {"data": {"name": "ir_box"}, "mark": {"type": "bar", "size": 19, "stroke": "black", "strokeWidth": 1.1},
        "encoding": {"y": {"field": "q1", "type": "quantitative"}, "y2": {"field": "q3"},
                     "fill": {"field": "g", "type": "nominal", "scale": {"domain": ["Homozygous", "Heterozygous1", "Heterozygous2"], "range": ["#5c9e33", "#e8a339", "#f4e642"]}, "legend": null}}},
       {"data": {"name": "ir_box"}, "mark": {"type": "tick", "orient": "horizontal", "color": "black", "size": 19, "thickness": 2}, "encoding": {"y": {"field": "med", "type": "quantitative"}}},
       {"data": {"name": "ir_out"}, "mark": {"type": "point", "shape": "circle", "size": 18, "color": "black", "filled": false, "strokeWidth": 1.2}, "encoding": {"y": {"field": "v", "type": "quantitative"}}}
     ]}
  ]},
  {"width": 1, "height": 18, "view": {"stroke": null}, "data": {"values": [{}]}, "mark": {"type": "point", "opacity": 0}},
  {"bounds": "flush", "spacing": 0, "resolve": {"scale": {"color": "independent", "fill": "independent", "stroke": "independent"}}, "hconcat": [
    {"width": 79, "height": 1, "view": {"stroke": null}, "data": {"values": [{}]}, "mark": {"type": "point", "opacity": 0}, "title": {"text": "C", "dx": 3, "offset": 32}},
    {"width": 84, "height": 113,
     "title": {"text": ["P-value = 8.60e-10", "(Wilcoxon rank sum test)"], "anchor": "middle", "fontSize": 14, "offset": -2, "lineHeight": 15, "baseline": "alphabetic"},
     "layer": [
       {"data": {"name": "cbox"}, "mark": {"type": "rule", "color": "black", "strokeDash": [3, 2.5]},
        "encoding": {
          "x": {"field": "x", "type": "quantitative", "scale": {"domain": [0.11, 2.53], "nice": false, "zero": false},
                "axis": {"values": [1, 2], "labelExpr": "datum.value == 1 ? 'Common allele' : 'Different allele'", "labelAngle": -30, "labelAlign": "right", "labelBaseline": "middle", "labelFontSize": 13.5, "labelOffset": 14, "title": null}},
          "y": {"field": "lo", "type": "quantitative", "scale": {"domain": [-0.189, 0.222], "nice": false, "zero": false},
                "axis": {"values": [-0.1, 0, 0.1, 0.2], "format": ".1f", "title": "heterotic level", "labelPadding": 1}},
          "y2": {"field": "q1"}}},
       {"data": {"name": "cbox"}, "mark": {"type": "rule", "color": "black", "strokeDash": [3, 2.5]},
        "encoding": {"x": {"field": "x", "type": "quantitative"}, "y": {"field": "q3", "type": "quantitative"}, "y2": {"field": "hi"}}},
       {"data": {"name": "cbox"}, "mark": {"type": "tick", "orient": "horizontal", "color": "black", "size": 14, "thickness": 1.2},
        "encoding": {"x": {"field": "x", "type": "quantitative"}, "y": {"field": "lo", "type": "quantitative"}}},
       {"data": {"name": "cbox"}, "mark": {"type": "tick", "orient": "horizontal", "color": "black", "size": 14, "thickness": 1.2},
        "encoding": {"x": {"field": "x", "type": "quantitative"}, "y": {"field": "hi", "type": "quantitative"}}},
       {"data": {"name": "cbox"}, "mark": {"type": "bar", "orient": "vertical", "size": 29, "stroke": "black", "strokeWidth": 1.2},
        "encoding": {"x": {"field": "x", "type": "quantitative"}, "y": {"field": "q1", "type": "quantitative"}, "y2": {"field": "q3"},
                     "fill": {"field": "g", "type": "nominal", "scale": {"domain": ["Common allele", "Different allele"], "range": ["#a9c9b1", "#d87a9a"]}, "legend": null}}},
       {"data": {"name": "cbox"}, "mark": {"type": "tick", "orient": "horizontal", "color": "black", "size": 29, "thickness": 2.5},
        "encoding": {"x": {"field": "x", "type": "quantitative"}, "y": {"field": "med", "type": "quantitative"}}},
       {"data": {"name": "cline"}, "mark": {"type": "rule", "color": "black", "strokeWidth": 1.2},
        "encoding": {"x": {"field": "x1", "type": "quantitative"}, "x2": {"field": "x2"}, "y": {"field": "y", "type": "quantitative"}}}
     ]}
  ]},
  {"width": 1, "height": 176, "view": {"stroke": null}, "data": {"values": [{}]}, "mark": {"type": "point", "opacity": 0}}
]
}
